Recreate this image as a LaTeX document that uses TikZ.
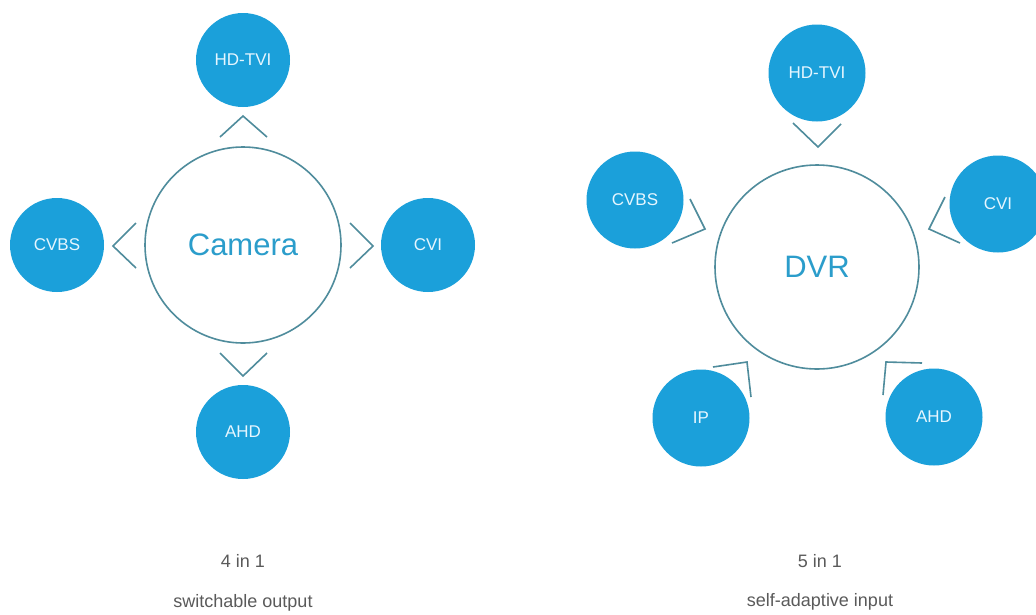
\documentclass[tikz,border=0pt]{standalone}
\usepackage{fontspec}
\setmainfont{Liberation Sans}
\definecolor{fillblue}{HTML}{1BA0DA}
\definecolor{ringcol}{HTML}{4F8C9C}
\definecolor{centertxt}{HTML}{2B9DCB}
\definecolor{captxt}{HTML}{5A5A5A}
\definecolor{labtxt}{HTML}{E6F6FF}
\begin{document}
\begin{tikzpicture}[x=1pt,y=-1pt,
  sat/.style={circle,fill=fillblue,minimum size=94pt,inner sep=0pt,text=labtxt,font=\fontsize{17}{19}\selectfont},
  hub/.style={circle,draw=ringcol,line width=1.6pt,inner sep=0pt,text=centertxt,font=\fontsize{31}{35}\selectfont},
  chev/.style={draw=ringcol,line width=1.6pt},
  captext/.style={text=captxt,font=\fontsize{18}{20}\selectfont}]
\useasboundingbox[fill=white] (0,0) rectangle (1036,614);
% left diagram
\node[hub,minimum size=196pt] (cam) at (243,245) {Camera};
\node[sat] (ltvi) at (243,60) {HD-TVI};
\node[sat] (lcvbs) at (57,245) {CVBS};
\node[sat] (lcvi) at (428,245) {CVI};
\node[sat] (lahd) at (243,432) {AHD};
\draw[chev] (220,137) -- (243,116) -- (267,137);
\draw[chev] (220,353) -- (243,376) -- (267,353);
\draw[chev] (136,223) -- (113,246) -- (136,268);
\draw[chev] (350,223) -- (373,246) -- (350,268);
% right diagram
\node[hub,minimum size=204pt] (dvr) at (817,267) {DVR};
\node[sat,minimum size=97pt] (rtvi) at (817,73) {HD-TVI};
\node[sat,minimum size=97pt] (rcvbs) at (635,200) {CVBS};
\node[sat,minimum size=97pt] (rcvi) at (998,204) {CVI};
\node[sat,minimum size=97pt] (rip) at (701,418) {IP};
\node[sat,minimum size=97pt] (rahd) at (934,417) {AHD};
\draw[chev] (793,123) -- (818,147) -- (841,124);
\draw[chev] (690,199) -- (705,229) -- (672,243);
\draw[chev] (945,197) -- (929,229) -- (960,243);
\draw[chev] (713,367) -- (747,362) -- (751,397);
\draw[chev] (922,363) -- (886,362) -- (883,395);
% captions
\node[captext] (c1) at (243,561) {4 in 1};
\node[captext] (c2) at (243,603) {switchable output};
\node[captext] (c3) at (820,561) {5 in 1};
\node[captext] (c4) at (820,602) {self-adaptive input};
\end{tikzpicture}
\end{document}
